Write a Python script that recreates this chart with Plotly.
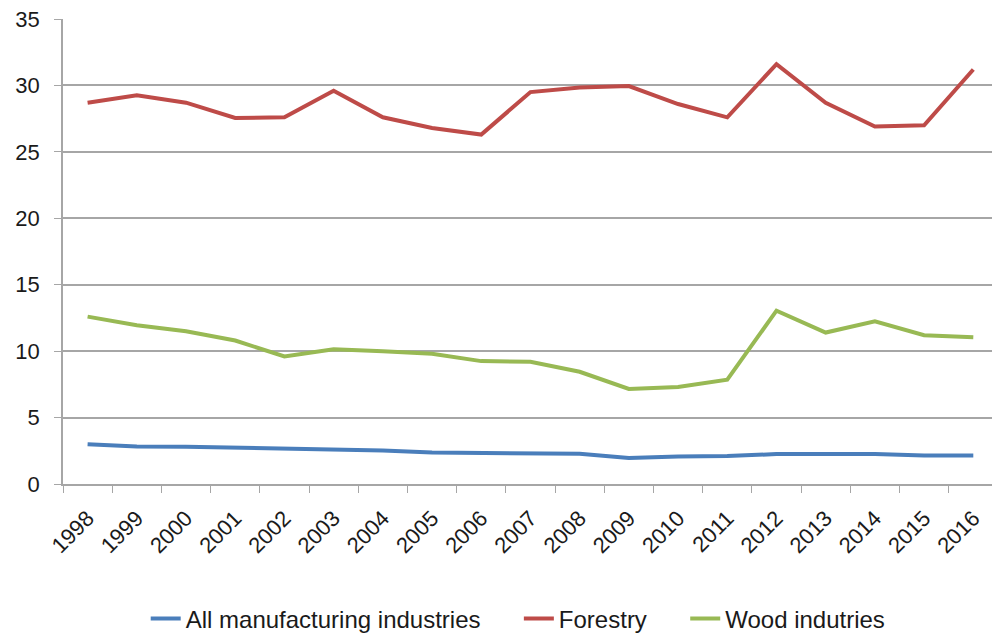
import plotly.graph_objects as go

years = [str(y) for y in range(1998, 2017)]
all_manufacturing = [3.0, 2.82, 2.8, 2.73, 2.62, 2.62, 2.52, 2.37, 2.32, 2.25, 2.27, 1.95, 2.07, 2.1, 2.25, 2.25, 2.25, 2.15, 2.15]
forestry = [28.7, 29.25, 28.7, 27.55, 27.6, 29.6, 27.6, 26.8, 26.3, 29.5, 29.85, 29.95, 28.6, 27.6, 31.6, 28.7, 26.9, 27.0, 31.2]
wood = [12.6, 11.95, 11.5, 10.8, 9.6, 10.15, 10.0, 9.8, 9.25, 9.2, 8.45, 7.15, 7.3, 7.85, 13.05, 11.4, 12.25, 11.2, 11.05]

series_names = ["All manufacturing industries", "Forestry", "Wood indutries"]
series_colors = ["#4A7EBB", "#BE4B48", "#98B954"]

font_family = "Liberation Sans, Arial, sans-serif"
pad = "\u00a0" * 5

fig = go.Figure()
n = len(series_names)
for i, (name, vals, col) in enumerate(zip(series_names, [all_manufacturing, forestry, wood], series_colors)):
    label = name + (pad if i < n - 1 else "")
    fig.add_trace(go.Scatter(x=years, y=vals, mode="lines", name=label,
                             line=dict(color=col, width=4)))

fig.update_layout(
    width=992, height=634,
    margin=dict(l=63, r=0, t=19, b=150),
    paper_bgcolor="white", plot_bgcolor="white",
    font=dict(family=font_family, size=22, color="#1a1a1a"),
    legend=dict(orientation="h", x=0.49, xanchor="center",
                yref="container", y=0.024, yanchor="middle",
                font=dict(size=24), tracegroupgap=0),
    showlegend=True,
)
fig.update_xaxes(type="category", range=[-0.5, 18.38], showgrid=False, automargin=False,
                 showline=True, linecolor="#A6A6A6", linewidth=1.5,
                 ticks="outside", tickson="boundaries", ticklen=7, tickcolor="#A6A6A6",
                 tickangle=-45, tickfont=dict(size=22), ticklabelstandoff=11)
fig.update_yaxes(range=[0, 35], dtick=5, showgrid=True, gridcolor="#A6A6A6", gridwidth=1.5,
                 showline=True, linecolor="#A6A6A6", linewidth=1.5, zeroline=False, automargin=False,
                 ticks="outside", ticklen=7, tickcolor="#A6A6A6", tickfont=dict(size=22),
                 ticklabelstandoff=10)

fig.write_html("out.html", config={"displayModeBar": False},
               post_script="document.body.style.margin='0';document.body.style.overflow='hidden';")
